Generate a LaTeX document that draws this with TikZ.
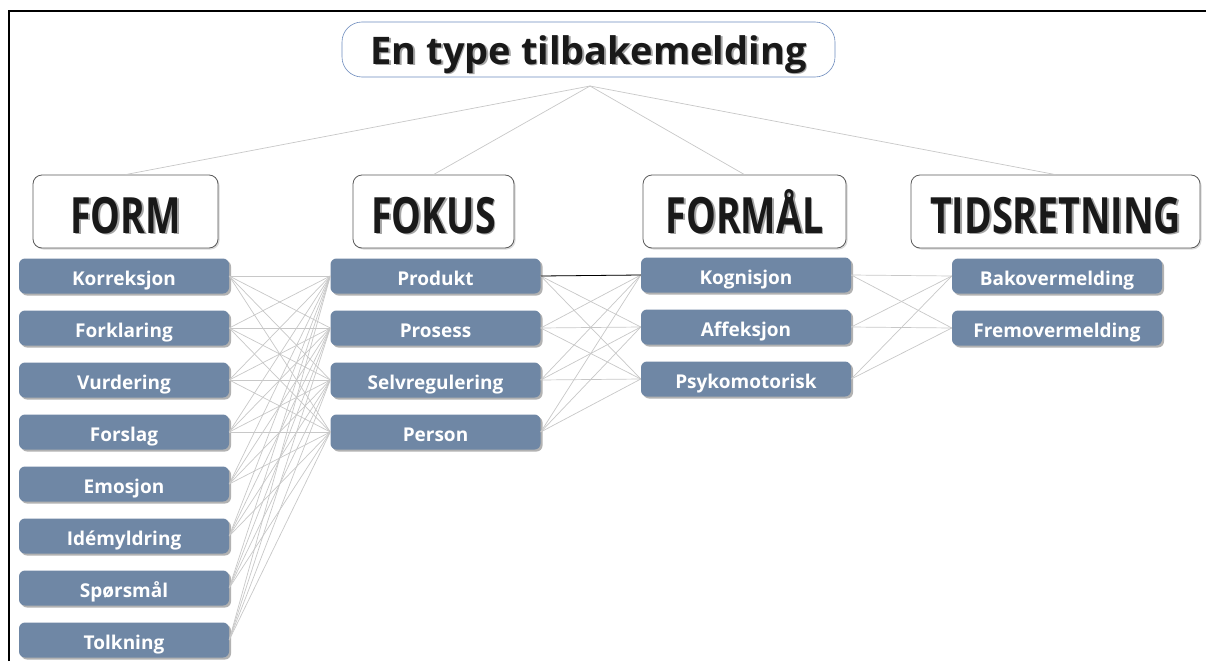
\documentclass[tikz,border=0pt]{standalone}
\usepackage{fontspec}
\usetikzlibrary{shadows}
\newfontfamily\osans{Open Sans}
\newfontfamily\ocond[FakeStretch=0.75]{Open Sans}
\definecolor{itemblue}{RGB}{111,135,165}
\definecolor{linkgray}{RGB}{200,200,200}
\definecolor{catgray}{RGB}{90,90,90}
\definecolor{titleblue}{RGB}{110,140,190}
\newcommand{\shtext}[1]{\makebox[0pt][l]{\hspace{1.8pt}\raisebox{-1.8pt}{\textcolor{black!35}{#1}}}#1}
\tikzset{
  item/.style={rounded corners=6pt, fill=itemblue, text=white, minimum width=210pt, minimum height=35pt,
    inner sep=0pt, text height=19pt, text depth=0pt, font=\osans\bfseries\fontsize{19}{19}\selectfont,
    drop shadow={shadow xshift=2pt, shadow yshift=-2pt, fill=black, opacity=0.3}},
  cat/.style={draw=catgray, line width=0.8pt, fill=white, rounded corners=9pt, minimum height=73pt,
    inner sep=0pt, text height=43pt, text depth=0pt, text=black!90,
    font=\ocond\bfseries\fontsize{50}{50}\selectfont,
    drop shadow={shadow xshift=1.5pt, shadow yshift=-1.5pt, fill=black, opacity=0.15}},
  titlebox/.style={draw=titleblue, line width=0.6pt, fill=white, rounded corners=20pt,
    minimum width=493pt, minimum height=55pt, inner sep=0pt, text height=29pt, text depth=0pt,
    text=black!90, font=\osans\bfseries\fontsize{38}{38}\selectfont},
  link/.style={draw=linkgray, line width=0.7pt},
  frame/.style={draw=black, line width=1.4pt},
}
\begin{document}
\begin{tikzpicture}[x=1pt,y=-1pt]
\useasboundingbox (0,0) rectangle (1206,661);
\fill[white] (0,0) rectangle (1206,661);
\draw[frame] (9,661) -- (9,11) -- (1206,11);

\node[titlebox] (top) at (588.5,49.5) {\shtext{En type tilbakemelding}};
\coordinate (hub) at (590,86);

\node[cat, minimum width=185pt] (cform) at (125.5,211.5) {\shtext{FORM}};
\node[cat, minimum width=161pt] (cfokus) at (433.5,211.5) {\shtext{FOKUS}};
\node[cat, minimum width=203pt] (cformal) at (744.5,211.5) {\shtext{FORMÅL}};
\node[cat, minimum width=289pt] (ctid) at (1055.5,211.5) {\shtext{TIDSRETNING}};

\foreach \c in {cform,cfokus,cformal,ctid} \draw[link] (hub) -- (\c.north);

% FORM items
\foreach \t [count=\i] in {Korreksjon,Forklaring,Vurdering,Forslag,Emosjon,Idémyldring,Spørsmål,Tolkning}
  \node[item] (f\i) at (124,{276+52*(\i-1)}) {\t};
% FOKUS items
\foreach \t [count=\i] in {Produkt,Prosess,Selvregulering,Person}
  \node[item] (k\i) at (435.5,{276+52*(\i-1)}) {\t};
% FORMAL items
\foreach \t [count=\i] in {Kognisjon,Affeksjon,Psykomotorisk}
  \node[item] (m\i) at (746,{275+52*(\i-1)}) {\t};
% TIDSRETNING items
\foreach \t [count=\i] in {Bakovermelding,Fremovermelding}
  \node[item] (t\i) at (1057,{276+52*(\i-1)}) {\t};

\foreach \i in {1,...,8}
  \foreach \j in {1,...,4}
    \draw[link] (f\i.east) -- (k\j.west);
\foreach \i in {1,...,4}
  \foreach \j in {1,...,3}
    \draw[link] (k\i.east) -- (m\j.west);
\foreach \i in {1,...,3}
  \foreach \j in {1,...,2}
    \draw[link] (m\i.east) -- (t\j.west);
\draw[black, line width=0.8pt] (k1.east) -- (m1.west);
\end{tikzpicture}
\end{document}
